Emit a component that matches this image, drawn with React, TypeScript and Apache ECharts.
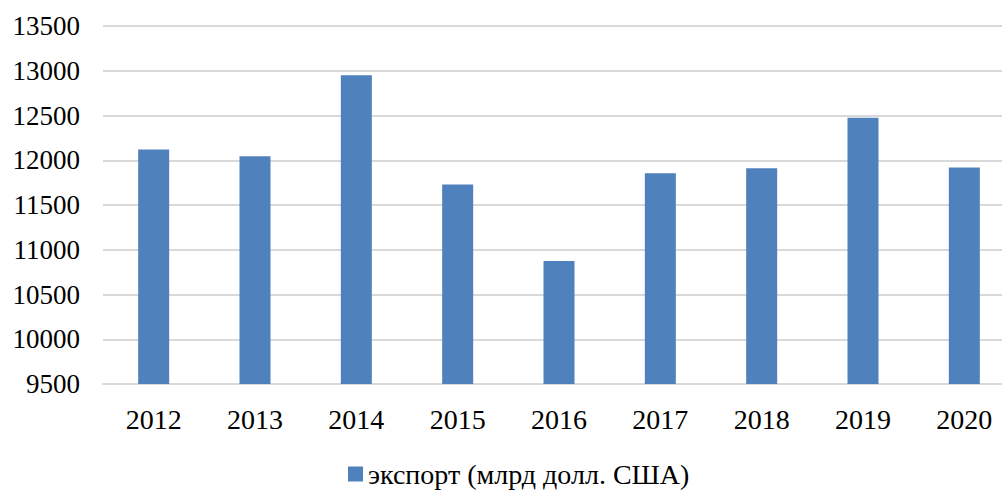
import React, { useEffect, useRef } from "react";
import * as echarts from "echarts";

const years = ["2012", "2013", "2014", "2015", "2016", "2017", "2018", "2019", "2020"];
const exportValues = [12120, 12045, 12950, 11730, 10875, 11855, 11910, 12475, 11920];
const seriesName = "экспорт (млрд долл. США)";
const yMin = 9500;
const yMax = 13500;
const yStep = 500;

const FONT = "'Times New Roman', 'Liberation Serif', serif";

export default function App() {
  const ref = useRef<HTMLDivElement>(null);
  useEffect(() => {
    if (!ref.current) return;
    const chart = echarts.init(ref.current, null, { renderer: "svg" });
    chart.setOption({
      animation: false,
      backgroundColor: "#ffffff",
      textStyle: { fontFamily: FONT },
      grid: { left: 103, right: -13, top: 26, bottom: 106, containLabel: false, outerBoundsMode: "none" },
      legend: {
        data: [seriesName],
        left: 343,
        top: 455,
        icon: "rect",
        itemWidth: 15,
        itemHeight: 15,
        textStyle: { fontFamily: FONT, fontSize: 28, color: "#000000" },
      },
      xAxis: {
        type: "category",
        data: years,
        axisLine: { show: true, lineStyle: { color: "#d9d9d9", width: 2 } },
        axisTick: { show: false },
        axisLabel: { fontFamily: FONT, fontSize: 28, color: "#000000", margin: 21 },
      },
      yAxis: {
        type: "value",
        min: yMin,
        max: yMax,
        interval: yStep,
        axisLine: { show: false },
        axisTick: { show: false },
        splitLine: { show: true, lineStyle: { color: "#d9d9d9", width: 2 } },
        axisLabel: {
          fontFamily: FONT,
          fontSize: 27,
          color: "#000000",
          margin: 23,
          formatter: (v: number) => String(v),
        },
      },
      series: [
        {
          name: seriesName,
          type: "bar",
          data: exportValues,
          barWidth: 31,
          itemStyle: { color: "#4F81BD" },
        },
      ],
    });
    return () => chart.dispose();
  }, []);
  return <div ref={ref} style={{ position: "fixed", left: 0, top: 0, width: 1002, height: 490 }} />;
}
